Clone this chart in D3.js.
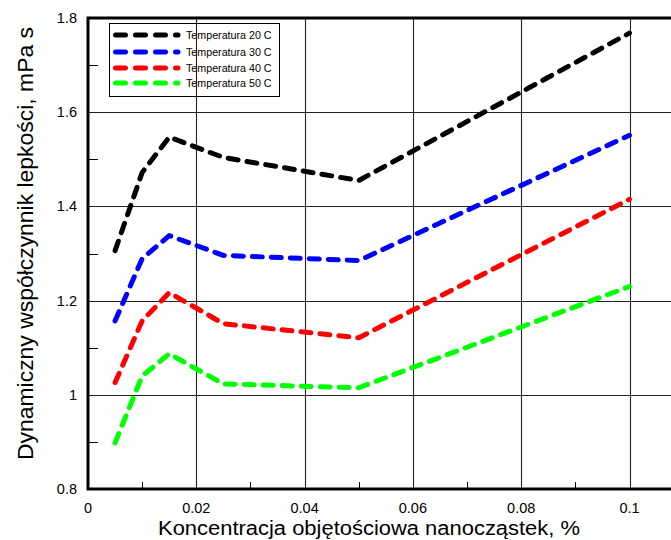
<!DOCTYPE html>
<html>
<head>
<meta charset="utf-8">
<script src="https://cdn.jsdelivr.net/npm/d3@7"></script>
<style>
  html, body { margin: 0; padding: 0; background: #fff; }
  svg { display: block; font-family: "Liberation Sans", Arial, sans-serif; }
</style>
</head>
<body>
<svg id="chart" width="671" height="540"></svg>
<script>
// Volume concentration of nanoparticles, %
const concentration = [0.005, 0.01, 0.015, 0.025, 0.05, 0.1];

// Dynamic viscosity, mPa s, for each temperature
const visc20 = [1.306, 1.472, 1.547, 1.504, 1.455, 1.768];
const visc30 = [1.157, 1.289, 1.338, 1.296, 1.285, 1.551];
const visc40 = [1.026, 1.157, 1.217, 1.151, 1.121, 1.415];
const visc50 = [0.898, 1.040, 1.087, 1.023, 1.015, 1.230];

const seriesNames = ["Temperatura 20 C", "Temperatura 30 C", "Temperatura 40 C", "Temperatura 50 C"];
const seriesColors = ["#000000", "#0000ff", "#ff0000", "#00ff00"];

const xTicks = [0, 0.02, 0.04, 0.06, 0.08, 0.1];
const xTickLabels = ["0", "0.02", "0.04", "0.06", "0.08", "0.1"];
const xMinorTicks = [0.01, 0.03, 0.05, 0.07, 0.09, 0.11];
const yTicks = [0.8, 1.0, 1.2, 1.4, 1.6, 1.8];
const yTickLabels = ["0.8", "1", "1.2", "1.4", "1.6", "1.8"];
const yMinorTicks = [0.9, 1.1, 1.3, 1.5, 1.7];

const series = [visc20, visc30, visc40, visc50].map((vals, i) => ({
  name: seriesNames[i],
  color: seriesColors[i],
  points: vals.map((v, j) => ({ x: concentration[j], y: v }))
}));

const svg = d3.select("#chart");
const plotLeft = 88, plotTop = 18, plotBottom = 489;

const x = d3.scaleLinear().domain([0, 0.1]).range([plotLeft, plotLeft + 541.5]);
const y = d3.scaleLinear().domain([0.8, 1.8]).range([plotBottom, plotTop]);

// grid lines
const grid = svg.append("g").attr("stroke", "#222").attr("stroke-width", 1.1);
grid.selectAll("line.vx").data(xTicks.slice(1).concat([0.12])).join("line")
  .attr("x1", d => Math.round(x(d)) + 0.5).attr("x2", d => Math.round(x(d)) + 0.5)
  .attr("y1", plotTop).attr("y2", plotBottom);
grid.selectAll("line.hy").data(yTicks.slice(1, -1)).join("line")
  .attr("x1", plotLeft).attr("x2", 671)
  .attr("y1", d => Math.round(y(d)) + 0.5).attr("y2", d => Math.round(y(d)) + 0.5);

// minor ticks (inward)
const ticks = svg.append("g").attr("stroke", "#000").attr("stroke-width", 1);
ticks.selectAll("line.mx").data(xMinorTicks).join("line")
  .attr("x1", d => Math.round(x(d)) + 0.5).attr("x2", d => Math.round(x(d)) + 0.5)
  .attr("y1", plotBottom).attr("y2", plotBottom - 7);
ticks.selectAll("line.my").data(yMinorTicks).join("line")
  .attr("x1", plotLeft).attr("x2", plotLeft + 10)
  .attr("y1", d => Math.round(y(d)) + 0.5).attr("y2", d => Math.round(y(d)) + 0.5);

// axes frame
svg.append("path")
  .attr("d", `M671,${plotTop} H${plotLeft} V${plotBottom} H671`)
  .attr("stroke", "#000").attr("stroke-width", 3).attr("fill", "none")
  .attr("stroke-linejoin", "miter");

// tick labels
svg.append("g").selectAll("text").data(xTicks).join("text")
  .attr("x", d => x(d)).attr("y", 513)
  .attr("text-anchor", "middle").attr("font-size", 14.5)
  .text((d, i) => xTickLabels[i]);
svg.append("g").selectAll("text").data(yTicks).join("text")
  .attr("x", 77).attr("y", d => y(d) + 5)
  .attr("text-anchor", "end").attr("font-size", 14.5)
  .text((d, i) => yTickLabels[i]);

// axis titles
svg.append("text")
  .attr("x", 369).attr("y", 535)
  .attr("text-anchor", "middle").attr("font-size", 20)
  .attr("textLength", 422).attr("lengthAdjust", "spacingAndGlyphs")
  .text("Koncentracja objętościowa nanocząstek, %");
svg.append("text")
  .attr("transform", "translate(33,243.5) rotate(-90)")
  .attr("text-anchor", "middle").attr("font-size", 22)
  .attr("textLength", 433).attr("lengthAdjust", "spacingAndGlyphs")
  .text("Dynamiczny współczynnik lepkości, mPa s");

// data lines
const line = d3.line().x(d => x(d.x)).y(d => y(d.y)).curve(d3.curveLinear);
svg.append("g").selectAll("path").data(series).join("path")
  .attr("d", d => line(d.points))
  .attr("fill", "none")
  .attr("stroke", d => d.color)
  .attr("stroke-width", 5)
  .attr("stroke-linecap", "round")
  .attr("stroke-linejoin", "round")
  .attr("stroke-dasharray", "10,9");

// legend
const lg = svg.append("g");
lg.append("rect").attr("x", 109.5).attr("y", 23.5).attr("width", 170).attr("height", 73)
  .attr("fill", "#fff").attr("stroke", "#000").attr("stroke-width", 1);
const rowY = [35, 52, 68, 83];
const item = lg.selectAll("g.item").data(series).join("g")
  .attr("transform", (d, i) => `translate(0,${rowY[i]})`);
item.append("line")
  .attr("x1", 115.5).attr("x2", 178).attr("y1", 0).attr("y2", 0)
  .attr("stroke", d => d.color).attr("stroke-width", 5)
  .attr("stroke-linecap", "round").attr("stroke-dasharray", "10,10");
item.append("text")
  .attr("x", 186).attr("y", 4)
  .attr("font-size", 10.7)
  .text(d => d.name);
// vertical grid line passes over the legend
lg.append("line")
  .attr("x1", Math.round(x(0.02)) + 0.5).attr("x2", Math.round(x(0.02)) + 0.5)
  .attr("y1", 23.5).attr("y2", 96.5)
  .attr("stroke", "#222").attr("stroke-width", 1.1);
</script>
</body>
</html>
